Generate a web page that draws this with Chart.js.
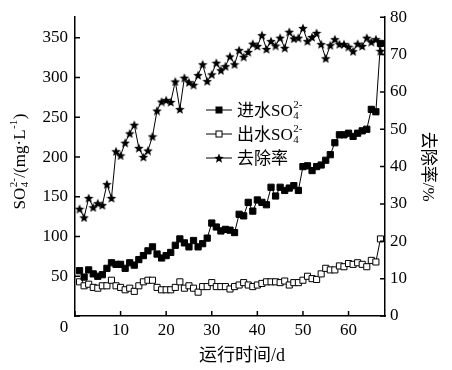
<!DOCTYPE html>
<html>
<head>
<meta charset="utf-8">
<script src="https://cdn.jsdelivr.net/npm/chart.js@4.4.0/dist/chart.umd.min.js"></script>
<style>
html, body { margin: 0; padding: 0; background: #fff; }
</style>
</head>
<body>
<canvas id="chart" width="452" height="370"></canvas>
<script>
// 运行时间 (d)
const days = [1, 2, 3, 4, 5, 6, 7, 8, 9, 10, 11, 12, 13, 14, 15, 16, 17, 18, 19, 20,
    21, 22, 23, 24, 25, 26, 27, 28, 29, 30, 31, 32, 33, 34, 35, 36, 37, 38, 39, 40,
    41, 42, 43, 44, 45, 46, 47, 48, 49, 50, 51, 52, 53, 54, 55, 56, 57, 58, 59, 60,
    61, 62, 63, 64, 65, 66, 67];

// 进水SO4 2- (mg/L)
const inletSO4 = [57, 49, 58, 53, 50, 52, 60, 67, 65, 65, 60, 67, 64, 71, 76, 82, 87, 78, 73, 76,
    80, 89, 97, 92, 87, 95, 87, 91, 98, 117, 112, 107, 109, 108, 105, 128, 126, 143, 132, 146,
    143, 140, 162, 151, 162, 158, 161, 164, 158, 188, 189, 183, 188, 190, 196, 203, 218, 228, 228, 230,
    226, 230, 233, 235, 260, 257, 343];

// 出水SO4 2- (mg/L)
const outletSO4 = [43, 38, 40, 36, 35, 38, 38, 45, 38, 36, 33, 35, 31, 38, 43, 45, 45, 36, 33, 33,
    33, 36, 43, 35, 38, 35, 30, 37, 37, 42, 37, 37, 37, 34, 37, 39, 42, 39, 37, 39,
    41, 43, 43, 43, 42, 44, 39, 42, 42, 45, 50, 47, 46, 53, 60, 58, 58, 63, 62, 66,
    65, 67, 65, 62, 70, 68, 97];

// 去除率 (%)
const removalRate = [28.7, 26.4, 31.6, 29.1, 30.2, 29.7, 35.3, 31.6, 44.1, 43.0, 46.4, 48.9, 51.2, 45.0, 42.6, 44.3, 48.1, 55.0, 57.4, 57.8,
    57.3, 62.8, 55.4, 63.8, 62.6, 61.9, 64.5, 67.4, 62.9, 64.7, 67.8, 65.8, 66.9, 69.5, 67.4, 71.2, 69.4, 70.7, 72.9, 72.3,
    75.2, 71.5, 73.6, 72.4, 74.5, 71.8, 76.1, 74.3, 74.5, 77.1, 73.6, 74.7, 75.8, 72.8, 69.0, 72.5, 74.1, 72.8, 72.8, 72.1,
    70.9, 72.9, 72.3, 74.5, 73.4, 74.1, 71.0];

const xTicks = [0, 10, 20, 30, 40, 50, 60];
const leftTicks = [0, 50, 100, 150, 200, 250, 300, 350];
const rightTicks = [0, 10, 20, 30, 40, 50, 60, 70, 80];

const FONT = '"Liberation Serif", "Noto Sans CJK SC", serif';

function toPoints(values) {
    return days.map((d, i) => ({ x: d, y: values[i] }));
}

function makeStar(size) {
    const c = document.createElement("canvas");
    c.width = size;
    c.height = size;
    const g = c.getContext("2d");
    const r = size / 2;
    const ri = r * 0.45;
    g.beginPath();
    for (let i = 0; i < 10; i++) {
        const a = -Math.PI / 2 + (i * Math.PI) / 5;
        const rr = i % 2 ? ri : r;
        g.lineTo(r + rr * Math.cos(a), r + 0.6 + rr * Math.sin(a));
    }
    g.closePath();
    g.fillStyle = "#000";
    g.fill();
    return c;
}
const starImg = makeStar(10);

// 文字 + 上下标叠放 (SO4 2-)
function drawRich(ctx, parts, x, y, size) {
    const small = Math.round(size * 0.62);
    const widths = parts.map((p) => {
        if (p.t) {
            ctx.font = size + "px " + FONT;
            return ctx.measureText(p.t).width;
        }
        ctx.font = small + "px " + FONT;
        return Math.max(ctx.measureText(p.sup || "").width, ctx.measureText(p.sub || "").width) + 1;
    });
    let cx = x;
    ctx.textBaseline = "alphabetic";
    ctx.textAlign = "left";
    const base = y + size * 0.33;
    parts.forEach((p, i) => {
        if (p.t) {
            ctx.font = size + "px " + FONT;
            ctx.fillText(p.t, cx, base);
        } else {
            ctx.font = small + "px " + FONT;
            if (p.sup) ctx.fillText(p.sup, cx + 0.5, base - size * 0.45);
            if (p.sub) ctx.fillText(p.sub, cx + 0.5, base + size * 0.18);
        }
        cx += widths[i];
    });
    return cx - x;
}

function richWidth(ctx, parts, size) {
    ctx.save();
    ctx.globalAlpha = 0;
    const w = drawRich(ctx, parts, 0, 0, size);
    ctx.restore();
    return w;
}

const decorPlugin = {
    id: "decor",
    afterDraw(chart) {
        const ctx = chart.ctx;
        const area = chart.chartArea;
        const sx = chart.scales.x, sy = chart.scales.y, sy2 = chart.scales.y2;
        ctx.save();
        ctx.strokeStyle = "#000";
        ctx.lineWidth = 1.5;
        ctx.beginPath();
        xTicks.forEach((v) => {
            const px = sx.getPixelForValue(v);
            ctx.moveTo(px, area.bottom);
            ctx.lineTo(px, area.bottom - 5);
        });
        leftTicks.forEach((v) => {
            const py = sy.getPixelForValue(v);
            ctx.moveTo(area.left, py);
            ctx.lineTo(area.left + 5, py);
        });
        rightTicks.forEach((v) => {
            const py = sy2.getPixelForValue(v);
            ctx.moveTo(area.right, py);
            ctx.lineTo(area.right - 5, py);
        });
        ctx.stroke();

        ctx.fillStyle = "#000";
        // 原点 "0"
        ctx.font = "17px " + FONT;
        ctx.textAlign = "center";
        ctx.textBaseline = "middle";
        ctx.fillText("0", area.left - 11, area.bottom + 12);

        // 横轴标题
        ctx.font = "18px " + FONT;
        ctx.fillText("运行时间/d", (area.left + area.right) / 2 + 12, area.bottom + 40);

        // 左轴标题
        const titleParts = [{ t: "SO" }, { sup: "2-", sub: "4" }, { t: "/(mg·L" }, { sup: "-1" }, { t: ")" }];
        const tw = richWidth(ctx, titleParts, 17);
        ctx.save();
        ctx.translate(19, (area.top + area.bottom) / 2 - 5);
        ctx.rotate(-Math.PI / 2);
        drawRich(ctx, titleParts, -tw / 2, 0, 17);
        ctx.restore();

        // 图例
        const rows = [
            [{ t: "进水SO" }, { sup: "2-", sub: "4" }],
            [{ t: "出水SO" }, { sup: "2-", sub: "4" }],
            [{ t: "去除率" }]
        ];
        const lx = 206, rowY = [110, 134, 158];
        chart.data.datasets.forEach((ds, i) => {
            const y = rowY[i];
            ctx.lineWidth = 1;
            ctx.beginPath();
            ctx.moveTo(lx, y);
            ctx.lineTo(lx + 26, y);
            ctx.stroke();
            const mx = lx + 13;
            if (i === 2) {
                ctx.drawImage(starImg, mx - 5, y - 5);
            } else {
                ctx.fillStyle = ds.pointBackgroundColor;
                ctx.fillRect(mx - 3, y - 3, 6, 6);
                ctx.strokeRect(mx - 3, y - 3, 6, 6);
            }
            ctx.fillStyle = "#000";
            drawRich(ctx, rows[i], lx + 31, y, 17);
        });
        ctx.restore();
    }
};

const onlyTicks = (list) => (scale) => {
    scale.ticks = list.map((v) => ({ value: v }));
};

new Chart(document.getElementById("chart"), {
    type: "line",
    data: {
        datasets: [
            {
                label: "进水SO4 2-",
                data: toPoints(inletSO4),
                yAxisID: "y",
                borderColor: "#000",
                borderWidth: 1,
                pointStyle: "rect",
                pointRadius: 4.4,
                pointBackgroundColor: "#000",
                pointBorderColor: "#000",
                pointBorderWidth: 1
            },
            {
                label: "出水SO4 2-",
                data: toPoints(outletSO4),
                yAxisID: "y",
                borderColor: "#000",
                borderWidth: 1,
                pointStyle: "rect",
                pointRadius: 4.3,
                pointBackgroundColor: "#fff",
                pointBorderColor: "#000",
                pointBorderWidth: 1
            },
            {
                label: "去除率",
                data: toPoints(removalRate),
                yAxisID: "y2",
                borderColor: "#000",
                borderWidth: 1,
                pointStyle: starImg,
                pointRadius: 5
            }
        ]
    },
    options: {
        responsive: false,
        animation: false,
        devicePixelRatio: 1,
        layout: { padding: { top: 14, left: 0, right: 0, bottom: 0 } },
        plugins: {
            legend: { display: false },
            tooltip: { enabled: false }
        },
        scales: {
            x: {
                type: "linear",
                min: 0,
                max: 68,
                afterBuildTicks: onlyTicks(xTicks),
                afterFit: (s) => { s.height = 54; },
                grid: { display: true, drawOnChartArea: false, drawTicks: false, color: "rgba(0,0,0,0)" },
                border: { display: true, color: "#000", width: 1.5 },
                ticks: {
                    color: "#000",
                    padding: 4,
                    maxRotation: 0,
                    font: { family: FONT, size: 17 },
                    callback: (v) => (v === 0 ? "" : v)
                }
            },
            y: {
                position: "left",
                min: 0,
                max: 376,
                afterBuildTicks: onlyTicks(leftTicks),
                afterFit: (s) => { s.width = 75; },
                grid: { display: true, drawOnChartArea: false, drawTicks: false, color: "rgba(0,0,0,0)" },
                border: { display: true, color: "#000", width: 1.5 },
                ticks: {
                    color: "#000",
                    padding: 7,
                    font: { family: FONT, size: 17 },
                    callback: (v) => (v === 0 ? "" : v)
                }
            },
            y2: {
                position: "right",
                min: 0,
                max: 80,
                afterBuildTicks: onlyTicks(rightTicks),
                afterFit: (s) => { s.width = 67; },
                grid: { display: true, drawOnChartArea: false, drawTicks: false, color: "rgba(0,0,0,0)" },
                border: { display: true, color: "#000", width: 1.5 },
                ticks: {
                    color: "#000",
                    padding: 5,
                    font: { family: FONT, size: 17 }
                },
                title: {
                    display: true,
                    text: "去除率/%",
                    color: "#000",
                    font: { family: FONT, size: 17 },
                    padding: { top: 14, bottom: 0 }
                }
            }
        }
    },
    plugins: [decorPlugin]
});
</script>
</body>
</html>
